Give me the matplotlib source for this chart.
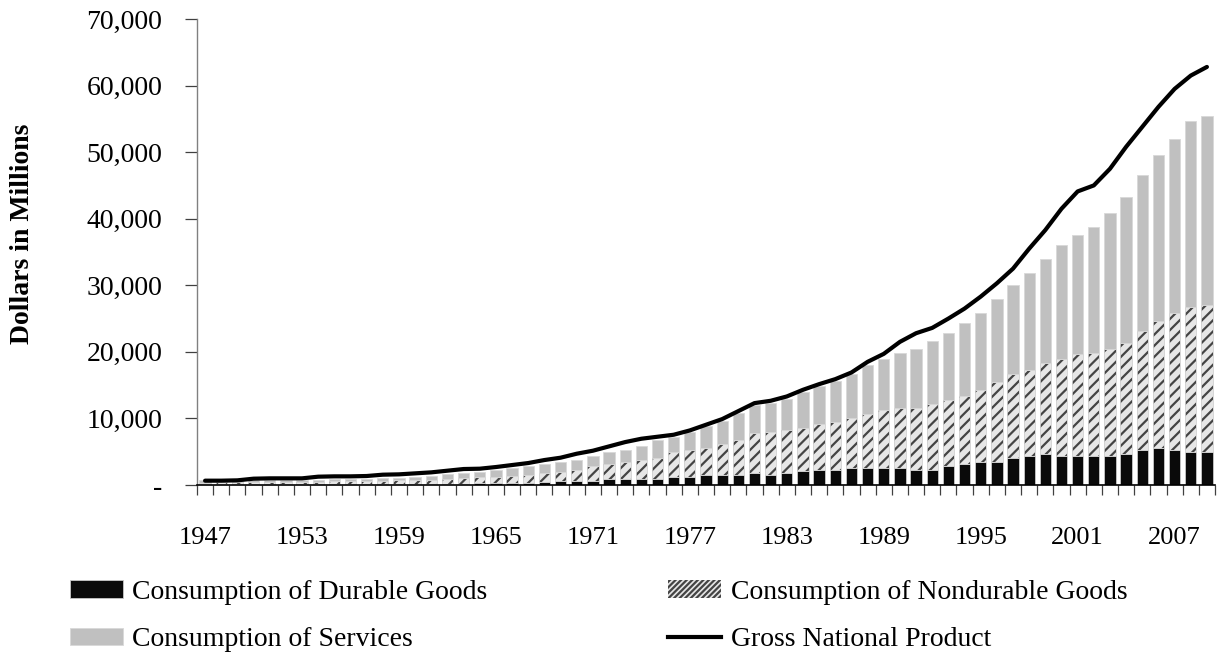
import matplotlib
matplotlib.use("Agg")
import matplotlib.pyplot as plt
import numpy as np
from matplotlib.ticker import FuncFormatter, FixedLocator
from matplotlib.patches import Patch
from matplotlib.lines import Line2D

plt.rcParams['font.family'] = ['Liberation Serif', 'DejaVu Serif']
plt.rcParams['hatch.linewidth'] = 1.6

years = list(range(1947, 2010))

durable = [100, 100, 100, 120, 120, 120, 130, 130, 150, 150, 150, 150, 170, 170, 180, 200,
           220, 250, 280, 300, 330, 400, 550, 550, 550, 850, 850, 850, 850, 1150, 1150, 1450,
           1450, 1450, 1750, 1450, 1750, 2050, 2300, 2300, 2550, 2500, 2500, 2500, 2250, 2250,
           2850, 3150, 3450, 3450, 4050, 4350, 4650, 4350, 4350, 4350, 4350, 4650, 5250, 5550,
           5250, 4950, 4950]

nondurable = [250, 300, 300, 330, 380, 380, 370, 370, 400, 400, 450, 500, 530, 580, 620, 750,
              830, 900, 970, 1100, 1220, 1350, 1400, 1750, 2350, 2350, 2650, 2900, 3250, 3850,
              4150, 4150, 4750, 5350, 6000, 6500, 6550, 6500, 6850, 7200, 7500, 8150, 8700, 9000,
              9250, 9850, 9950, 10150, 10750, 11950, 12550, 12950, 13750, 14650, 15350, 15550,
              16150, 16750, 17950, 19150, 20650, 21850, 22150]

services = [400, 200, 200, 250, 250, 250, 300, 300, 300, 350, 350, 350, 350, 400, 500, 650,
            800, 850, 950, 1100, 1250, 1350, 1500, 1450, 1450, 1750, 1750, 2050, 2650, 2200,
            2600, 3200, 3400, 4000, 4250, 4350, 4600, 5450, 5650, 6100, 6550, 7400, 7750, 8400,
            8900, 9600, 10100, 11100, 11700, 12500, 13500, 14600, 15600, 17100, 17900, 18900,
            20400, 21900, 23400, 24900, 26100, 27900, 28400]

gnp = [650, 650, 700, 950, 1000, 1000, 1000, 1250, 1300, 1300, 1350, 1550, 1600, 1750, 1900,
       2150, 2400, 2450, 2700, 3000, 3300, 3750, 4100, 4700, 5150, 5800, 6450, 6950, 7250, 7550,
       8200, 9050, 9900, 11100, 12300, 12650, 13300, 14300, 15150, 15900, 16900, 18500, 19700,
       21500, 22800, 23600, 25000, 26500, 28300, 30300, 32500, 35500, 38300, 41500, 44100, 45000,
       47500, 50800, 53800, 56800, 59500, 61500, 62800]

labels = ["Consumption of Durable Goods", "Consumption of Nondurable Goods",
          "Consumption of Services", "Gross National Product"]
y_title = "Dollars in Millions"

c_dur = '#0a0a0a'
c_serv = '#c0c0c0'
c_hatch = '#444444'
c_hface = '#e6e6e6'

W, H = 1221, 660
fig = plt.figure(figsize=(W / 100, H / 100), dpi=100)
ax_l, ax_r, ax_t, ax_b = 197, 1215, 19, 485
ax = fig.add_axes([ax_l / W, 1 - ax_b / H, (ax_r - ax_l) / W, (ax_b - ax_t) / H])

x = np.arange(len(years))
dur = np.array(durable)
nd = np.array(nondurable)
sv = np.array(services)
w = 0.7

ax.bar(x, dur, width=w, color=c_dur, edgecolor='#c8c8c8', linewidth=0.6, zorder=2)
ax.bar(x, nd, width=w, bottom=dur, facecolor=c_hface, edgecolor=c_hatch, hatch='///',
       linewidth=0, zorder=2)
ax.bar(x, nd, width=w, bottom=dur, facecolor='none', edgecolor='#d0d0d0', linewidth=0.6, zorder=2)
ax.bar(x, sv, width=w, bottom=dur + nd, color=c_serv, edgecolor='#d8d8d8', linewidth=0.6, zorder=2)
ax.plot(x, gnp, color='black', linewidth=3.0, zorder=3, solid_capstyle='round')

ax.set_xlim(-0.5, len(years) - 0.5)
ax.set_ylim(0, 70000)

ax.yaxis.set_major_locator(FixedLocator(np.arange(0, 70001, 10000)))
ax.yaxis.set_major_formatter(FuncFormatter(lambda v, p: '-' if v == 0 else f"{int(v):,}"))
ax.tick_params(axis='y', labelsize=20, length=9, width=0.9, color='#404040', pad=16)

label_idx = list(range(0, len(years), 6))
ax.set_xticks(label_idx)
ax.set_xticklabels([str(years[i]) for i in label_idx])
ax.set_xticks(np.arange(-0.5, len(years), 1.0), minor=True)
ax.tick_params(axis='x', which='major', length=0, labelsize=19, pad=30)
ax.tick_params(axis='x', which='minor', length=7.5, width=0.9, color='#404040')

for s in ['top', 'right']:
    ax.spines[s].set_visible(False)
ax.spines['left'].set_color('#808080')
ax.spines['left'].set_linewidth(1.0)
ax.spines['bottom'].set_color('black')
ax.spines['bottom'].set_linewidth(1.2)

fig.text(23 / W, 1 - 234 / H, y_title, rotation=90, fontsize=20, fontweight='bold',
         ha='center', va='center')

h_dur = Patch(facecolor=c_dur, edgecolor='#c8c8c8', linewidth=0.6)
h_nd = Patch(facecolor=c_hface, edgecolor=c_hatch, hatch='//////', linewidth=0)
h_sv = Patch(facecolor=c_serv, edgecolor='#d8d8d8', linewidth=0.6)
h_gnp = Line2D([0], [0], color='black', linewidth=3.0)

leg = fig.legend([h_dur, h_sv, h_nd, h_gnp], [labels[0], labels[2], labels[1], labels[3]],
                 ncol=2, loc='upper left', bbox_to_anchor=(70 / W, 1 - 580 / H),
                 frameon=False, fontsize=20, handlelength=1.9, handleheight=0.6,
                 handletextpad=0.35, columnspacing=6.5, labelspacing=0.8,
                 borderpad=0, borderaxespad=0)

fig.savefig("out.png", dpi=100)
